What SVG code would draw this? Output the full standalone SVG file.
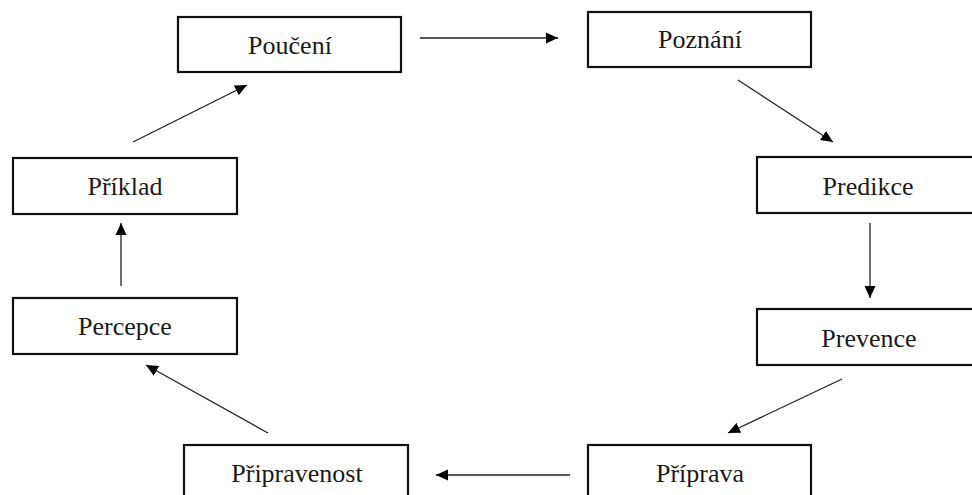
<svg xmlns="http://www.w3.org/2000/svg" width="972" height="495" viewBox="0 0 972 495">
<style>
.box{fill:#fff;stroke:#111;stroke-width:2.2}
.lbl{font-family:"Liberation Serif","Times New Roman",serif;font-size:26px;fill:#1a1a1a;text-anchor:middle}
.con{stroke:#222;stroke-width:1.3;fill:none;marker-end:url(#ah)}
</style>
<defs>
<marker id="ah" viewBox="0 0 12 12" refX="12" refY="6" markerWidth="12" markerHeight="12" markerUnits="userSpaceOnUse" orient="auto">
<path d="M0,0.5 L12,6 L0,11.5 Z" fill="#000"/>
</marker>
</defs>
<rect width="972" height="495" fill="#fff"/>
<g id="poučení"><rect class="box" x="178" y="17" width="223" height="55"/><text class="lbl" x="290" y="54">Poučení</text></g>
<g id="poznání"><rect class="box" x="588" y="12" width="223" height="55"/><text class="lbl" x="700" y="48">Poznání</text></g>
<g id="predikce"><rect class="box" x="757" y="157" width="225" height="56"/><text class="lbl" x="868" y="195">Predikce</text></g>
<g id="prevence"><rect class="box" x="757" y="309" width="225" height="56"/><text class="lbl" x="869" y="347">Prevence</text></g>
<g id="příprava"><rect class="box" x="588" y="445" width="223" height="60"/><text class="lbl" x="700" y="482">Příprava</text></g>
<g id="připravenost"><rect class="box" x="184" y="445" width="224" height="60"/><text class="lbl" x="297" y="482">Připravenost</text></g>
<g id="percepce"><rect class="box" x="13" y="298" width="224" height="56"/><text class="lbl" x="125" y="335">Percepce</text></g>
<g id="příklad"><rect class="box" x="13" y="158" width="224" height="56"/><text class="lbl" x="125" y="195">Příklad</text></g>
<g id="connectors">
<line class="con" x1="420" y1="38" x2="558" y2="38"/>
<line class="con" x1="738" y1="80" x2="833" y2="142"/>
<line class="con" x1="870" y1="223" x2="870" y2="298"/>
<line class="con" x1="842" y1="379" x2="728" y2="433"/>
<line class="con" x1="570" y1="475" x2="436" y2="475"/>
<line class="con" x1="268" y1="433" x2="146" y2="365"/>
<line class="con" x1="121" y1="286" x2="121" y2="223"/>
<line class="con" x1="133" y1="142" x2="247" y2="85"/>
</g>
</svg>
